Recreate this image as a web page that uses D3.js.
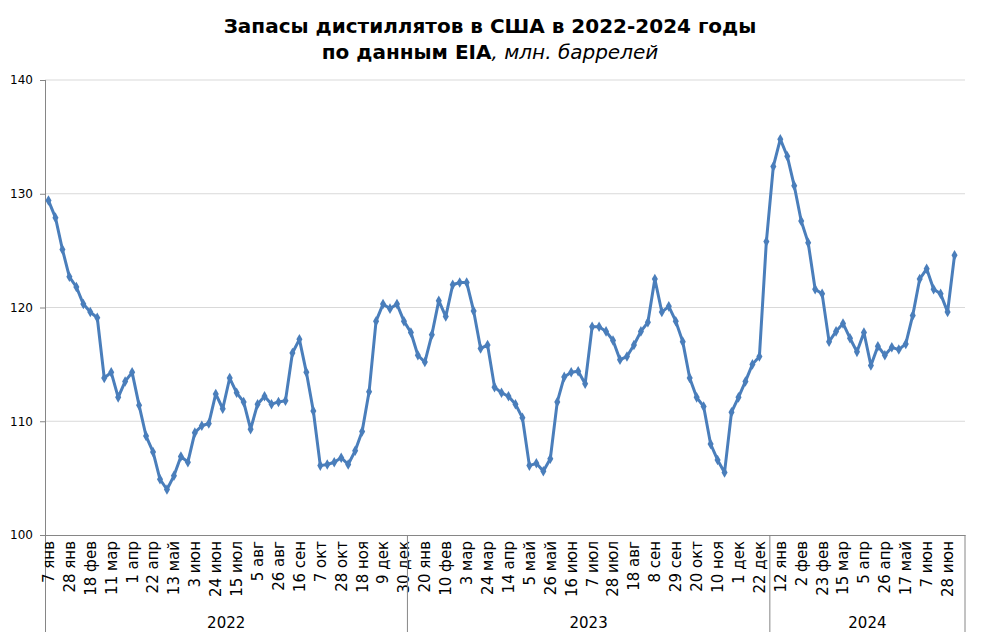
<!DOCTYPE html>
<html>
<head>
<meta charset="utf-8">
<script src="https://cdn.jsdelivr.net/npm/d3@7"></script>
<style>
  body { margin: 0; background: #fff; }
</style>
</head>
<body>
<div id="chart"></div>
<script>
// weekly stocks, mln barrels
const years = ["2022", "2023", "2024"];

const values2022 = [129.4, 127.9, 125.1, 122.7, 121.8, 120.3, 119.6, 119.1, 113.8, 114.3,
  112.1, 113.5, 114.3, 111.4, 108.7, 107.3, 104.9, 104.0, 105.2, 106.9,
  106.4, 109.0, 109.6, 109.8, 112.4, 111.1, 113.8, 112.5, 111.7, 109.3,
  111.5, 112.2, 111.5, 111.7, 111.8, 116.0, 117.2, 114.3, 110.9, 106.1,
  106.2, 106.4, 106.8, 106.2, 107.4, 109.1, 112.6, 118.8, 120.3, 119.9,
  120.3, 118.8];

const values2023 = [117.8, 115.8, 115.2, 117.6, 120.6, 119.2, 122.0, 122.2, 122.2, 119.7,
  116.4, 116.7, 113.0, 112.5, 112.2, 111.5, 110.3, 106.1, 106.3, 105.6,
  106.7, 111.7, 113.9, 114.3, 114.4, 113.3, 118.3, 118.3, 117.9, 117.1,
  115.4, 115.7, 116.7, 117.9, 118.7, 122.5, 119.6, 120.1, 118.8, 117.0,
  113.8, 112.1, 111.3, 108.0, 106.6, 105.5, 110.8, 112.1, 113.5, 115.0,
  115.7, 125.8];

// last week (12 июл) has no value yet
const values2024 = [132.4, 134.8, 133.3, 130.7, 127.6, 125.7, 121.6, 121.2, 117.0, 117.9,
  118.6, 117.3, 116.1, 117.8, 114.9, 116.6, 115.8, 116.5, 116.3, 116.8,
  119.3, 122.5, 123.4, 121.6, 121.2, 119.6, 124.6, null];

// every third week is labelled
const tickLabels = ["7 янв", "28 янв", "18 фев", "11 мар", "1 апр", "22 апр", "13 май", "3 июн",
  "24 июн", "15 июл", "5 авг", "26 авг", "16 сен", "7 окт", "28 окт", "18 ноя", "9 дек", "30 дек",
  "20 янв", "10 фев", "3 мар", "24 мар", "14 апр", "5 май", "26 май", "16 июн", "7 июл", "28 июл",
  "18 авг", "8 сен", "29 сен", "20 окт", "10 ноя", "1 дек", "22 дек",
  "12 янв", "2 фев", "23 фев", "15 мар", "5 апр", "26 апр", "17 май", "7 июн", "28 июн"];

const yTicks = [100, 110, 120, 130, 140];

const W = 984, H = 644;
const margin = {top: 80, left: 45, right: 19, bottom: 109};
const width = W - margin.left - margin.right,
  height = H - margin.top - margin.bottom;

const yearValues = [values2022, values2023, values2024];
let data = [];
yearValues.forEach((arr, yi) => arr.forEach(v => data.push({i: data.length, year: years[yi], v: v})));

let svg = d3.select("#chart").append("svg")
  .attr("width", W)
  .attr("height", H)
  .style("font-family", "'DejaVu Sans', Verdana, sans-serif");

// title
let title = svg.append("text")
  .attr("text-anchor", "middle")
  .attr("x", 490)
  .attr("font-size", 20)
  .attr("font-weight", "bold");
title.append("tspan").attr("x", 490).attr("y", 33).text("Запасы дистиллятов в США в 2022-2024 годы");
let t2 = title.append("tspan").attr("x", 490).attr("y", 59);
t2.append("tspan").text("по данным EIA");
t2.append("tspan").attr("font-weight", "normal").attr("font-style", "italic").text(", млн. баррелей");

const x = d3.scaleBand()
  .domain(data.map(d => d.i))
  .range([margin.left, margin.left + width]);

const y = d3.scaleLinear()
  .domain([100, 140])
  .range([margin.top + height, margin.top]);

// grid
svg.append("g")
  .selectAll("line")
  .data(yTicks.slice(1))
  .join("line")
  .attr("x1", margin.left)
  .attr("x2", margin.left + width)
  .attr("y1", d => y(d))
  .attr("y2", d => y(d))
  .attr("stroke", "#d9d9d9")
  .attr("stroke-width", 1);

// y axis
let yAxis = svg.append("g")
  .attr("transform", `translate(${margin.left},0)`)
  .call(d3.axisLeft(y).tickValues(yTicks).tickSize(5).tickPadding(7));
yAxis.select(".domain").remove();
yAxis.selectAll(".tick line").attr("stroke", "#868686");
yAxis.selectAll("text").attr("font-size", 12).attr("fill", "#000")
  .style("font-family", "'DejaVu Sans', Verdana, sans-serif");

// left axis line runs down through the category area
svg.append("line")
  .attr("x1", margin.left + 0.5).attr("x2", margin.left + 0.5)
  .attr("y1", margin.top).attr("y2", 632)
  .attr("stroke", "#868686");

// x axis
let xAxis = svg.append("g")
  .attr("transform", `translate(0,${margin.top + height})`)
  .call(d3.axisBottom(x)
    .tickValues(tickLabels.map((t, k) => k * 3))
    .tickFormat(i => tickLabels[i / 3])
    .tickSize(0)
    .tickSizeOuter(0));
xAxis.select(".domain").attr("stroke", "#868686");
xAxis.selectAll("text")
  .attr("transform", "rotate(-90)")
  .attr("text-anchor", "end")
  .attr("x", -6)
  .attr("y", 0)
  .attr("dy", "0.36em")
  .attr("font-size", 15)
  .attr("fill", "#000")
  .style("font-family", "'DejaVu Sans', Verdana, sans-serif");

// year groups
let bounds = [];
let start = 0;
yearValues.forEach((arr, yi) => {
  bounds.push({year: years[yi], from: start, to: start + arr.length - 1});
  start += arr.length;
});

svg.append("g")
  .selectAll("line")
  .data(bounds)
  .join("line")
  .attr("x1", d => x(d.to) + x.bandwidth())
  .attr("x2", d => x(d.to) + x.bandwidth())
  .attr("y1", margin.top + height)
  .attr("y2", 632)
  .attr("stroke", "#868686");

svg.append("g")
  .selectAll("text")
  .data(bounds)
  .join("text")
  .attr("x", d => (x(d.from) + x(d.to) + x.bandwidth()) / 2)
  .attr("y", 628)
  .attr("text-anchor", "middle")
  .attr("font-size", 15)
  .text(d => d.year);

// series
const line = d3.line()
  .defined(d => d.v !== null)
  .x(d => x(d.i) + x.bandwidth() / 2)
  .y(d => y(d.v));

svg.append("path")
  .datum(data)
  .attr("fill", "none")
  .attr("stroke", "#4a7ebb")
  .attr("stroke-width", 3)
  .attr("stroke-linejoin", "round")
  .attr("d", line);

svg.append("g")
  .selectAll("path")
  .data(data.filter(d => d.v !== null))
  .join("path")
  .attr("transform", d => `translate(${x(d.i) + x.bandwidth() / 2},${y(d.v)})`)
  .attr("d", d3.symbol(d3.symbolDiamond, 32))
  .attr("fill", "#4a7ebb");
</script>
</body>
</html>
